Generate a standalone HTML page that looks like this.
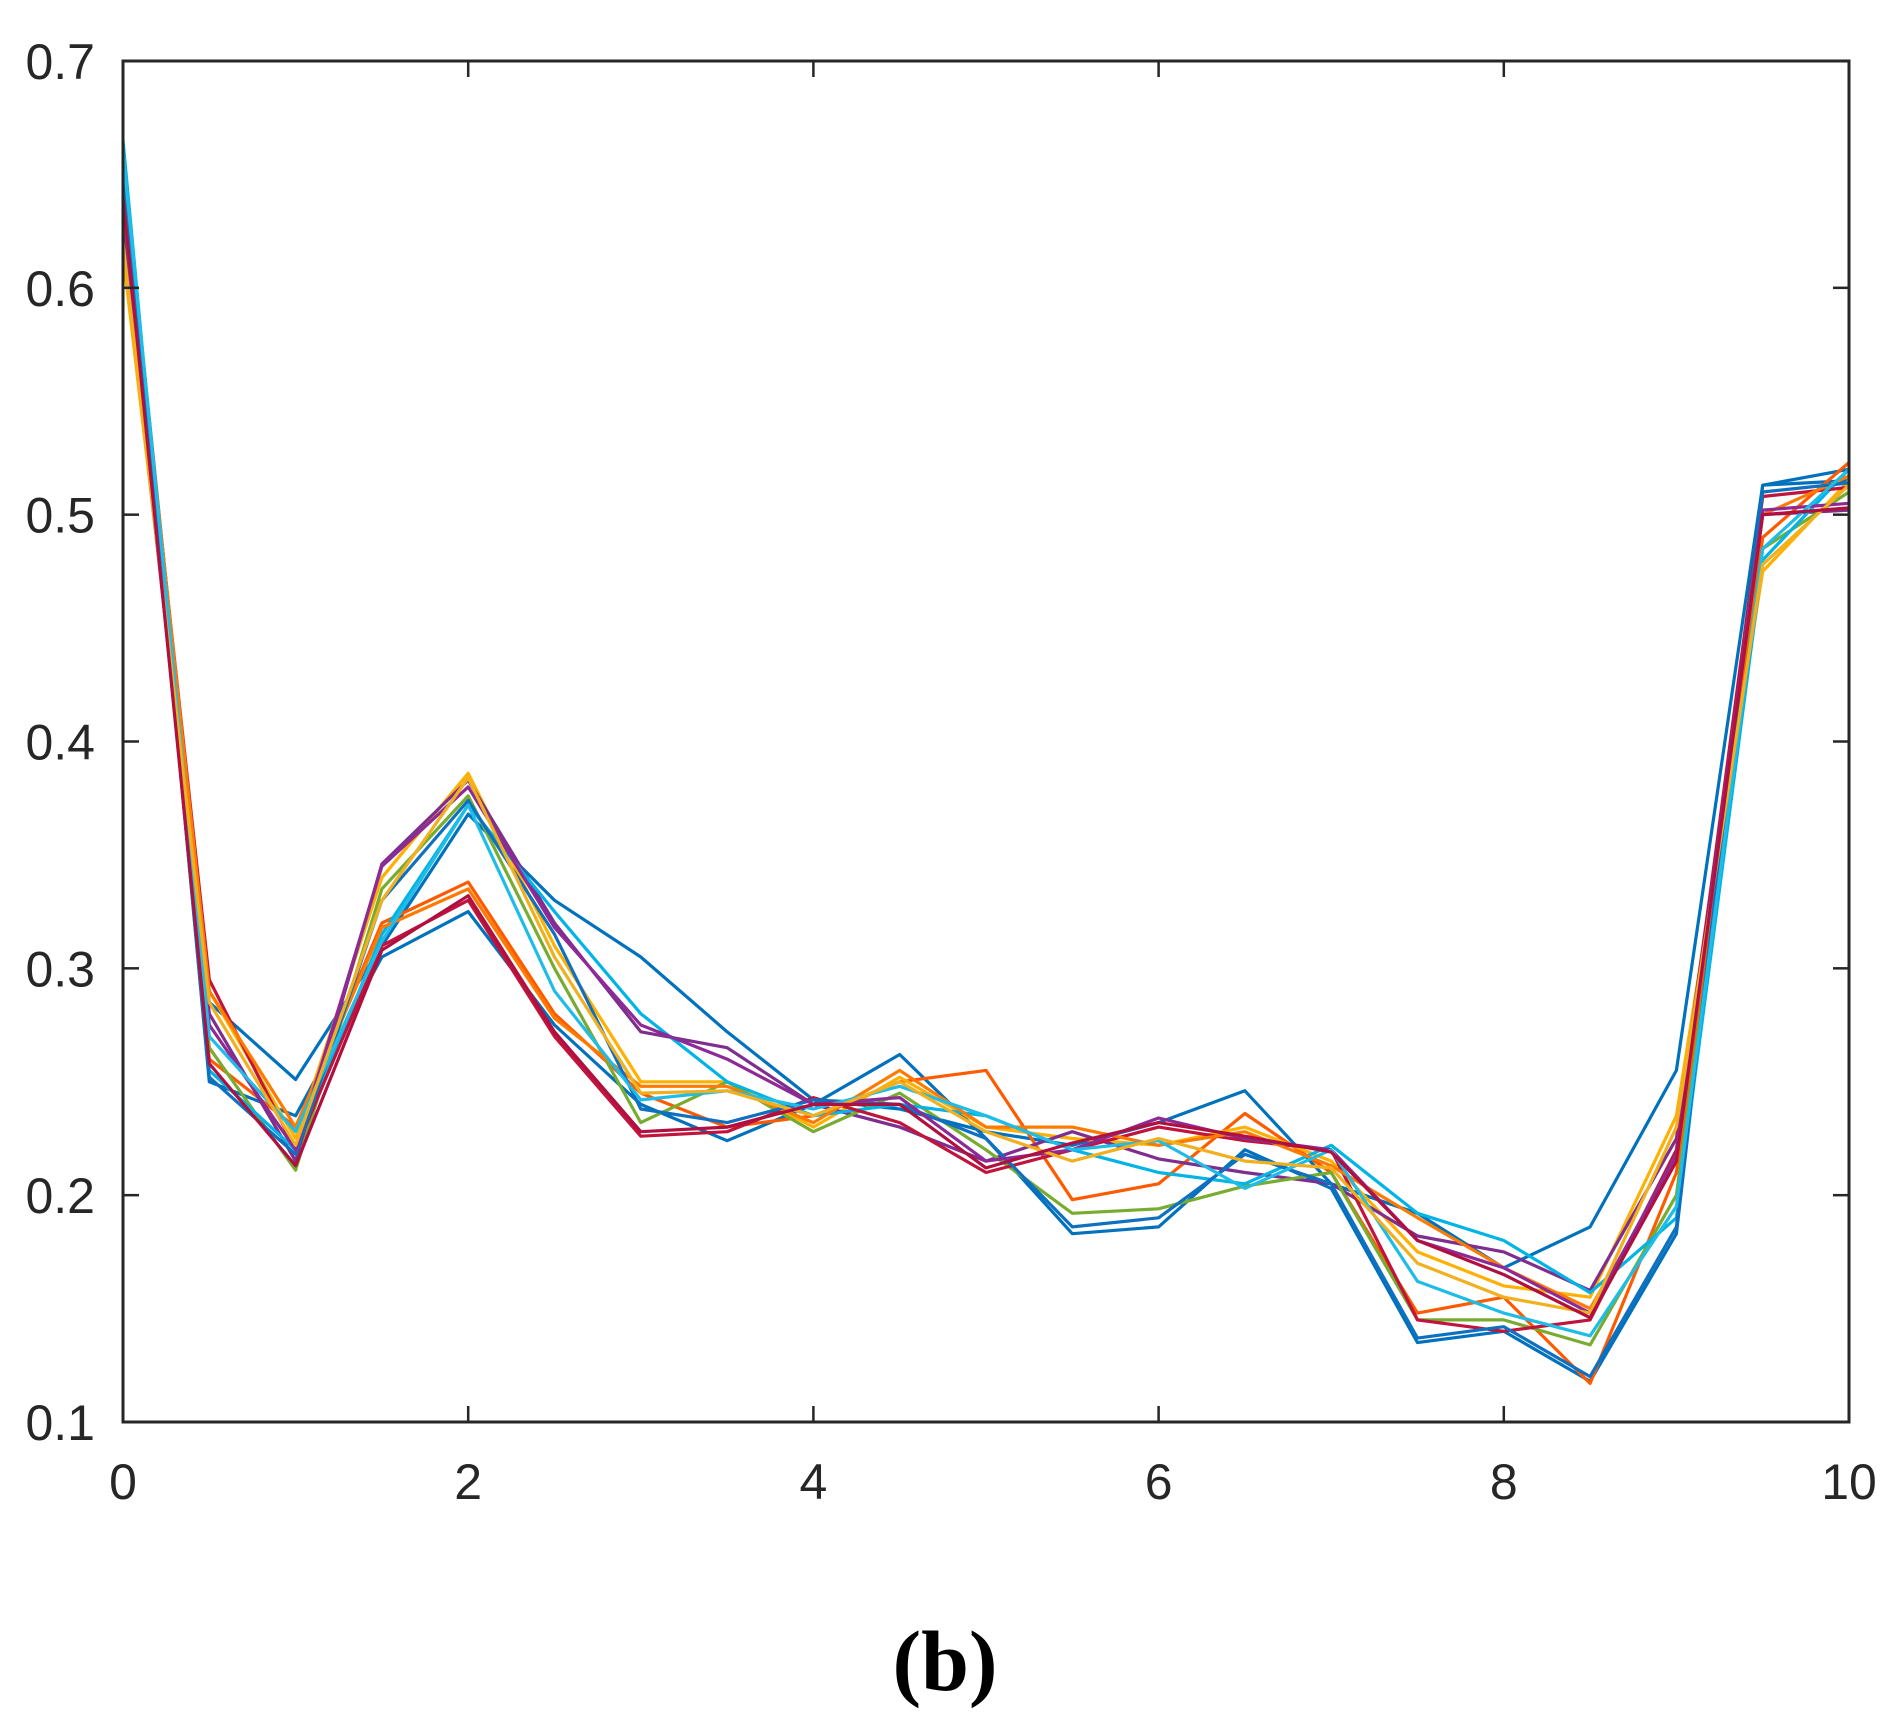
<!DOCTYPE html>
<html><head><meta charset="utf-8"><style>
html,body{margin:0;padding:0;background:#fff;}
svg{display:block;}
text{font-family:"Liberation Sans",Arial,sans-serif;fill:#262626;}
</style></head><body>
<svg id="chart" width="1899" height="1720" viewBox="0 0 1899 1720" xmlns="http://www.w3.org/2000/svg">
<g id="series"></g>
<g id="axes"></g>
<text x="945" y="1690" text-anchor="middle" style="font-family:'Liberation Serif',serif;font-size:86px;font-weight:bold;fill:#000">(b)</text>
</svg>
<script>
const xValues=[0,0.5,1,1.5,2,2.5,3,3.5,4,4.5,5,5.5,6,6.5,7,7.5,8,8.5,9,9.5,10];
const xTicks=[0,2,4,6,8,10];
const yTicks=[0.1,0.2,0.3,0.4,0.5,0.6,0.7];
const yTickLabels=["0.1","0.2","0.3","0.4","0.5","0.6","0.7"];
const colors=["#0072BD","#0072BD","#FF5A00","#FFB000","#7E2F8E","#77AC30","#00B4E6","#C0143C","#FF7A00","#1070C0","#8E2A96","#20BCE8","#F0B020","#B01040"];
const s1=[0.655,0.285,0.251,0.31,0.368,0.33,0.305,0.272,0.242,0.238,0.228,0.222,0.232,0.246,0.205,0.192,0.168,0.186,0.255,0.513,0.515];
const s2=[0.66,0.25,0.235,0.305,0.325,0.275,0.24,0.224,0.24,0.262,0.225,0.183,0.186,0.22,0.203,0.135,0.14,0.118,0.183,0.513,0.52];
const s3=[0.64,0.26,0.23,0.32,0.338,0.28,0.245,0.23,0.235,0.25,0.255,0.198,0.205,0.236,0.21,0.148,0.155,0.117,0.21,0.49,0.523];
const s4=[0.615,0.29,0.225,0.34,0.386,0.31,0.25,0.25,0.23,0.252,0.23,0.225,0.222,0.23,0.215,0.175,0.16,0.155,0.235,0.475,0.515];
const s5=[0.63,0.28,0.215,0.346,0.383,0.32,0.272,0.265,0.24,0.23,0.215,0.228,0.216,0.21,0.205,0.182,0.175,0.158,0.225,0.5,0.502];
const s6=[0.635,0.265,0.211,0.335,0.376,0.3,0.232,0.25,0.228,0.245,0.22,0.192,0.194,0.204,0.21,0.145,0.145,0.134,0.2,0.485,0.51];
const s7=[0.665,0.255,0.22,0.315,0.372,0.325,0.28,0.25,0.235,0.24,0.235,0.22,0.21,0.205,0.222,0.192,0.18,0.157,0.19,0.48,0.52];
const s8=[0.645,0.295,0.22,0.31,0.33,0.27,0.226,0.228,0.243,0.232,0.21,0.22,0.23,0.224,0.22,0.145,0.14,0.145,0.22,0.508,0.512];
const s9=[0.65,0.29,0.23,0.318,0.335,0.278,0.248,0.248,0.232,0.255,0.23,0.23,0.222,0.228,0.213,0.19,0.168,0.15,0.215,0.5,0.517];
const s10=[0.655,0.252,0.218,0.33,0.374,0.315,0.238,0.232,0.242,0.24,0.225,0.186,0.19,0.218,0.205,0.137,0.142,0.12,0.186,0.51,0.514];
const s11=[0.625,0.275,0.22,0.345,0.38,0.318,0.275,0.26,0.24,0.243,0.215,0.22,0.234,0.225,0.22,0.18,0.168,0.148,0.218,0.502,0.505];
const s12=[0.66,0.27,0.228,0.312,0.372,0.29,0.242,0.246,0.238,0.248,0.235,0.22,0.224,0.203,0.22,0.162,0.148,0.138,0.195,0.485,0.52];
const s13=[0.62,0.285,0.222,0.33,0.384,0.305,0.245,0.246,0.235,0.25,0.228,0.215,0.225,0.215,0.212,0.17,0.155,0.148,0.23,0.478,0.513];
const s14=[0.64,0.258,0.213,0.308,0.332,0.272,0.228,0.23,0.24,0.24,0.212,0.223,0.232,0.226,0.219,0.18,0.165,0.146,0.215,0.5,0.503];
const seriesList=[s1,s2,s3,s4,s5,s6,s7,s8,s9,s10,s11,s12,s13,s14];

const L=123,R=1849,T=61,B=1422;
const xMin=0,xMax=10,yMin=0.1,yMax=0.7;
function xs(v){return L+(v-xMin)/(xMax-xMin)*(R-L);}
function ys(v){return B-(v-yMin)/(yMax-yMin)*(B-T);}
const NS="http://www.w3.org/2000/svg";
const sg=document.getElementById('series');
seriesList.forEach((s,i)=>{
  const p=document.createElementNS(NS,'polyline');
  p.setAttribute('points',s.map((v,j)=>xs(xValues[j]).toFixed(1)+','+ys(v).toFixed(1)).join(' '));
  p.setAttribute('fill','none');
  p.setAttribute('stroke',colors[i%colors.length]);
  p.setAttribute('stroke-width','3.2');
  p.setAttribute('stroke-linejoin','round');
  
  
  sg.appendChild(p);
});
const ag=document.getElementById('axes');
const box=document.createElementNS(NS,'rect');
box.setAttribute('x',L);box.setAttribute('y',T);box.setAttribute('width',R-L);box.setAttribute('height',B-T);
box.setAttribute('fill','none');box.setAttribute('stroke','#262626');box.setAttribute('stroke-width','3');


ag.appendChild(box);
function line(x1,y1,x2,y2,name){
  const l=document.createElementNS(NS,'line');
  l.setAttribute('x1',x1);l.setAttribute('y1',y1);l.setAttribute('x2',x2);l.setAttribute('y2',y2);
  l.setAttribute('stroke','#262626');l.setAttribute('stroke-width','2.5');
  
  
  ag.appendChild(l);
}
xTicks.forEach(t=>{
  const x=xs(t);
  line(x,B,x,B-16,'x-tick');
  line(x,T,x,T+16,'x-tick-top');
  const tx=document.createElementNS(NS,'text');
  tx.setAttribute('x',x);tx.setAttribute('y',1499);
  tx.setAttribute('text-anchor','middle');tx.setAttribute('font-size','50');
  tx.textContent=String(t);
  
  
  ag.appendChild(tx);
});
yTicks.forEach((t,i)=>{
  const y=ys(t);
  line(L,y,L+16,y,'y-tick');
  line(R,y,R-16,y,'y-tick-right');
  const tx=document.createElementNS(NS,'text');
  tx.setAttribute('x',95);tx.setAttribute('y',y+18);
  tx.setAttribute('text-anchor','end');tx.setAttribute('font-size','50');
  tx.textContent=yTickLabels[i];
  
  
  ag.appendChild(tx);
});
</script>
</body></html>
